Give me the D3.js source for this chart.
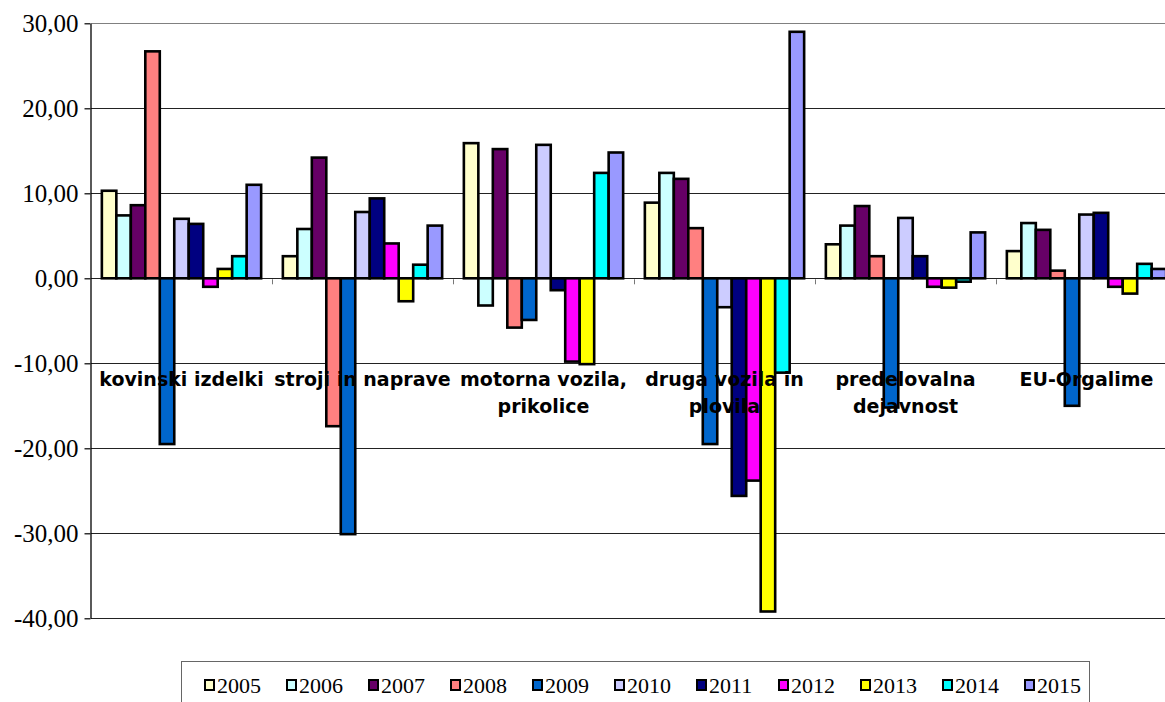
<!DOCTYPE html>
<html>
<head>
<meta charset="utf-8">
<script src="https://cdn.jsdelivr.net/npm/d3@7"></script>
<style>
html,body{margin:0;padding:0;background:#fff;}
svg{display:block;}
</style>
</head>
<body>
<svg id="chart" width="1165" height="702"></svg>
<script>
const categories = [
  ["kovinski izdelki"],
  ["stroji in naprave"],
  ["motorna vozila,", "prikolice"],
  ["druga vozila in", "plovila"],
  ["predelovalna", "dejavnost"],
  ["EU-Orgalime"]
];
const years = ["2005","2006","2007","2008","2009","2010","2011","2012","2013","2014","2015"];
const colors = ["#FFFFCC","#CCFFFF","#660066","#FF8080","#0066CC","#CCCCFF","#000080","#FF00FF","#FFFF00","#00FFFF","#9999FF"];
// values[category][year]
const kovinski     = [10.3, 7.4, 8.6, 26.7, -19.5, 7.0, 6.4, -1.0, 1.1, 2.6, 11.0];
const stroji       = [2.6, 5.8, 14.2, -17.4, -30.1, 7.8, 9.4, 4.1, -2.7, 1.6, 6.2];
const motorna      = [15.9, -3.2, 15.2, -5.8, -4.9, 15.7, -1.4, -9.8, -10.1, 12.4, 14.8];
const druga        = [8.9, 12.4, 11.7, 5.9, -19.5, -3.4, -25.6, -23.8, -39.2, -11.1, 29.0];
const predelovalna = [4.0, 6.2, 8.5, 2.6, -15.2, 7.1, 2.6, -1.0, -1.1, -0.4, 5.4];
const orgalime     = [3.2, 6.5, 5.7, 0.9, -15.0, 7.5, 7.7, -1.0, -1.8, 1.7, 1.1];
const seriesByCategory = [kovinski, stroji, motorna, druga, predelovalna, orgalime];
const yTicks = [30, 20, 10, 0, -10, -20, -30, -40];

(function(){
const svg = d3.select("#chart");
const mLeft = 91, mTop = 23.3, mBottom = 618.3, band = 181;
const catKeys = categories.map(c => c.join(" "));

const x0 = d3.scaleBand().domain(catKeys).range([mLeft, mLeft + band * catKeys.length]).paddingInner(0).paddingOuter(0);
const x1 = d3.scaleBand().domain(years).range([0, x0.bandwidth()]).paddingInner(0).paddingOuter(0.75);
const y = d3.scaleLinear().domain([-40, 30]).range([mBottom, mTop]);

// gridlines
svg.append("g").selectAll("line").data(yTicks).join("line")
  .attr("x1", mLeft).attr("x2", 1165)
  .attr("y1", d => Math.round(y(d)) + 0.5).attr("y2", d => Math.round(y(d)) + 0.5)
  .attr("stroke", d => d === 30 ? "#808080" : "#222").attr("stroke-width", 1.2);

// y axis
const yAxis = d3.axisLeft(y).tickValues(yTicks).tickSize(6).tickSizeOuter(0)
  .tickFormat(d => d3.format(".2f")(d).replace(".", ",").replace("−", "-"));
const gy = svg.append("g").attr("transform", `translate(${mLeft - 0.5},0)`).call(yAxis);
gy.select(".domain").attr("stroke", "#000").attr("stroke-width", 1.3);
gy.selectAll(".tick line").attr("stroke", "#000").attr("stroke-width", 1.2);
gy.selectAll(".tick text")
  .attr("font-family", "'Liberation Serif', 'Times New Roman', serif")
  .attr("font-size", 25).attr("fill", "#000").attr("x", -12).attr("dy", "0.33em");

// category boundary ticks on zero line
svg.append("g").selectAll("line").data(catKeys.slice(1)).join("line")
  .attr("x1", d => x0(d) + 0.5).attr("x2", d => x0(d) + 0.5)
  .attr("y1", y(0) + 1).attr("y2", y(0) + 6)
  .attr("stroke", "#777").attr("stroke-width", 1);

// bars
const groups = svg.append("g").selectAll("g").data(catKeys).join("g")
  .attr("transform", d => `translate(${x0(d)},0)`);
groups.selectAll("rect").data((d, i) => seriesByCategory[i].map((v, j) => ({year: years[j], v, c: colors[j]})))
  .join("rect")
  .attr("x", d => x1(d.year))
  .attr("width", x1.bandwidth())
  .attr("y", d => Math.min(y(d.v), y(0)))
  .attr("height", d => Math.abs(y(d.v) - y(0)))
  .attr("fill", d => d.c)
  .attr("stroke", "#000").attr("stroke-width", 2.6);

// category labels
const labels = svg.append("g");
categories.forEach((lines, i) => {
  const cx = x0(catKeys[i]) + x0.bandwidth() / 2;
  lines.forEach((t, k) => {
    labels.append("text")
      .attr("x", cx).attr("y", 386 + k * 26.5)
      .attr("text-anchor", "middle")
      .attr("font-family", "'DejaVu Sans', Verdana, sans-serif")
      .attr("font-weight", "bold").attr("font-size", 19)
      .attr("fill", "#000").text(t);
  });
});

// legend
const lg = svg.append("g");
lg.append("rect").attr("x", 181.5).attr("y", 661.5).attr("width", 908).attr("height", 45)
  .attr("fill", "#fff").attr("stroke", "#666").attr("stroke-width", 1);
const lx = d3.scaleLinear().domain([0, years.length - 1]).range([205, 1025]);
years.forEach((yr, j) => {
  const gx = lx(j);
  lg.append("rect").attr("x", gx).attr("y", 680).attr("width", 9).attr("height", 10)
    .attr("fill", colors[j]).attr("stroke", "#000").attr("stroke-width", 2);
  lg.append("text").attr("x", gx + 12).attr("y", 693)
    .attr("font-family", "'Liberation Serif', 'Times New Roman', serif")
    .attr("font-size", 22).attr("fill", "#000").text(yr);
});
})();
</script>
</body>
</html>
